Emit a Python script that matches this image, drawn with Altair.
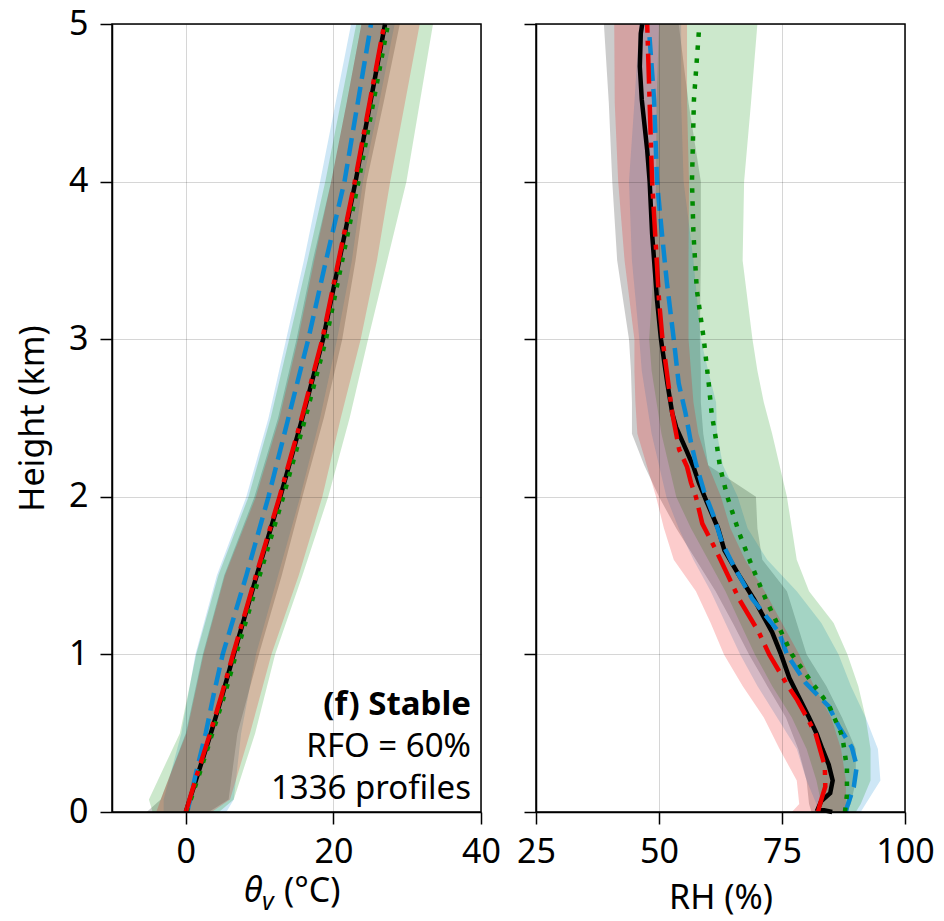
import altair as alt
import pandas as pd

FONT = "Noto Sans"
W, H = 369, 788

# ---------------- theta_v panel (degC) ----------------
TH_H = [0, 0.25, 0.5, 0.75, 1, 1.5, 2, 2.5, 3, 3.5, 4, 4.5, 5]
TH_BLACK = [0, 1.7, 3.4, 5.0, 6.5, 9.6, 12.8, 15.8, 18.6, 20.8, 23.0, 25.0, 27.0]
TH_BLUE = [0.2, 1.4, 2.7, 3.8, 5.0, 8.2, 11.2, 13.9, 16.6, 19.0, 21.5, 23.3, 25.1]
TH_GREEN = [0.1, 1.9, 3.6, 5.3, 6.8, 10.0, 13.2, 16.2, 19.0, 21.2, 23.4, 25.4, 27.4]
TH_RED = [0, 1.6, 3.3, 4.9, 6.4, 9.5, 12.7, 15.7, 18.5, 20.7, 22.9, 24.9, 26.9]

# spread envelopes of theta_v
TB_H = [0, 0.08, 0.5, 1, 1.5, 2, 2.5, 3, 3.5, 4, 4.5, 5]
TB_GREY_LO = [-5.3, -3.4, 0.0, 2.3, 5.2, 9.3, 12.5, 15.0, 17.2, 19.7, 21.8, 23.8]
TB_GREY_HI = [3.1, 5.8, 7.0, 9.9, 13.0, 15.8, 18.7, 21.2, 23.0, 24.5, 26.8, 29.0]
TB_BLUE_LO = [-3.0, -3.0, -0.6, 1.3, 4.2, 8.2, 11.2, 13.6, 16.0, 18.2, 20.3, 22.4]
TB_BLUE_HI = [5.5, 6.5, 7.5, 9.5, 12.5, 15.5, 18.2, 20.5, 22.5, 24.0, 26.2, 28.3]
TB_GREEN_LO = [-4.5, -5.0, -0.8, 1.4, 4.4, 8.5, 11.5, 14.0, 16.5, 18.9, 21.0, 23.1]
TB_GREEN_HI = [4.5, 6.5, 9.4, 12.1, 15.8, 19.3, 22.2, 24.7, 27.3, 29.9, 31.7, 33.5]
TB_RED_LO = [-4.0, -3.4, 0.1, 2.4, 5.3, 9.5, 12.7, 15.2, 17.4, 19.7, 21.8, 23.8]
TB_RED_HI = [3.5, 6.0, 8.7, 11.6, 15.3, 18.5, 21.0, 23.7, 25.9, 27.7, 29.7, 31.7]

# ---------------- relative humidity panel (%) ----------------
RH_BLACK_H = [0, 0.02, 0.07, 0.12, 0.2, 0.3, 0.4, 0.5, 0.6, 0.7, 0.85, 1.0, 1.14, 1.35,
              1.5, 1.66, 1.8, 1.96, 2.09, 2.19, 2.3, 2.44, 2.53, 2.72, 3.0, 3.25, 3.67,
              4.0, 4.2, 4.52, 4.73, 4.94, 5.0]
RH_BLACK = [85.2, 82.3, 83.0, 84.8, 85.3, 84.5, 83.2, 82.0, 80.5, 78.9, 76.5, 74.8, 73.0, 69.3,
            66.3, 63.3, 62.0, 59.8, 58.1, 57.0, 55.5, 53.5, 52.7, 51.7, 50.4, 49.6, 48.6,
            48.1, 47.6, 46.5, 46.1, 46.3, 46.6]
RH_RED_H = [0, 0.08, 0.16, 0.29, 0.5, 0.71, 0.82, 1.0, 1.14, 1.35, 1.66, 1.83, 2.0, 2.09,
            2.19, 2.3, 2.53, 3.0, 3.25, 4.0, 5.0]
RH_RED = [82.3, 83.0, 83.8, 83.7, 81.8, 78.1, 75.8, 72.4, 70.3, 66.3, 61.6, 58.8, 57.5, 56.5,
          55.7, 54.1, 52.7, 50.7, 50.0, 48.6, 47.6]
RH_BLUE_H = [0, 0.03, 0.16, 0.29, 0.41, 0.54, 0.67, 0.82, 1.0, 1.14, 1.35, 1.56, 1.71, 1.87,
             2.04, 2.21, 2.36, 2.53, 2.72, 3.0, 3.36, 3.67, 4.0, 4.52, 4.95]
RH_BLUE = [88.0, 88.2, 89.6, 90.2, 89.2, 86.6, 84.5, 79.8, 76.0, 74.4, 69.0, 65.2, 62.8, 61.2,
           59.1, 57.5, 56.4, 55.4, 54.0, 53.0, 51.6, 50.6, 49.6, 49.0, 48.0]
RH_GREEN_H = [0, 0.11, 0.28, 0.45, 0.5, 0.68, 0.82, 1.0, 1.35, 1.56, 1.77, 2.0, 2.19, 2.36,
              2.53, 2.72, 3.0, 3.31, 3.67, 4.0, 4.52, 4.95]
RH_GREEN = [87.8, 88.2, 88.2, 87.4, 87.0, 84.5, 81.1, 77.0, 71.7, 68.9, 66.3, 63.9, 62.4, 61.6,
            60.7, 60.1, 59.1, 57.7, 57.0, 56.7, 57.1, 58.1]

# spread envelopes of RH
RB_H = [0, 0.05, 0.2, 0.4, 0.6, 0.8, 1.0, 1.2, 1.4, 1.6, 1.8, 2.0, 2.2, 2.4, 2.6, 2.8, 3.0,
        3.5, 4.0, 4.5, 5.0]
RB_GREY_LO = [81, 80.5, 80, 78.3, 75.8, 72, 68.3, 65, 61.5, 57.5, 53.5, 50, 47, 44.5, 44.5,
              44.3, 43.9, 41.5, 40.5, 39.8, 38.8]
RB_GREY_HI = [88, 89, 90, 90, 87.2, 84, 80, 78, 76, 71, 70, 69.7, 60, 59, 58.5, 58.5, 58.3,
              58.5, 58.5, 56, 54]
RB_BLUE_LO = [82, 82, 80, 78, 74, 70, 66.5, 63.5, 60.5, 57, 54, 51.5, 50, 48.5, 47.5, 46.5,
              46, 44.5, 43.9, 45, 46]
RB_BLUE_HI = [91, 92, 95, 94.5, 92, 89, 86.5, 83, 78, 72, 68, 66, 63, 61.8, 61.6, 60, 58.5,
              57, 55, 54.5, 54.5]
RB_GREEN_LO = [83, 83, 82, 80, 77, 73, 69.5, 66.5, 63.5, 60, 56.5, 53.5, 52, 50.5, 49.5, 48.5,
               48, 49, 49.4, 49.5, 50]
RB_GREEN_HI = [90, 91, 93, 93, 92, 90.5, 88.3, 85.5, 80.5, 78, 77, 76, 74.5, 73, 71.3, 70, 69,
               67, 67.3, 68.7, 70]
RB_RED_LO = [77, 78.5, 78, 74.5, 71.3, 67, 63.2, 60.5, 57.5, 53, 51, 49.4, 47.5, 45.6, 45.2,
             45, 45, 43, 41.7, 41, 40.9]
RB_RED_HI = [88, 88, 88, 87, 85, 81.5, 78.5, 75, 71.5, 67.5, 64.5, 62.6, 60, 58, 57, 56.5, 56,
             56, 56.1, 55.7, 55.7]

ANNOT_TITLE = "(f) Stable"
ANNOT_LINES = "RFO = 60%\n1336 profiles"

C_GREY = "#808080"
C_BLUE = "#0a88d2"
C_GREEN = "#008a00"
C_RED = "#ee0000"

Y_SCALE = alt.Scale(domain=[0, 5], nice=False, zero=False)
TH_SCALE = alt.Scale(domain=[-10, 40], nice=False, zero=False)
RH_SCALE = alt.Scale(domain=[25, 100], nice=False, zero=False)

AX_COMMON = dict(
    tickSize=12, tickWidth=1.5, tickColor="black",
    domainColor="black", domainWidth=1.5,
    labelFontSize=34, labelFont=FONT, labelColor="black",
    titleFontSize=34, titleFont=FONT, titleColor="black", titleFontWeight="normal",
    grid=True, gridColor="black", gridOpacity=0.16, gridWidth=1,
    labelOverlap=False, labelFlush=False, zindex=1,
)

Y_LEFT_AX = alt.Axis(values=[0, 1, 2, 3, 4, 5], title="Height (km)", labelPadding=12,
                     titlePadding=18, **AX_COMMON)
Y_RIGHT_AX = alt.Axis(values=[0, 1, 2, 3, 4, 5], title=None, labels=False, **AX_COMMON)
TH_AX = alt.Axis(values=[0, 20, 40], title=None, labelPadding=11, **AX_COMMON)
RH_AX = alt.Axis(values=[25, 50, 75, 100], title="RH (%)", labelPadding=11,
                 titlePadding=12, **AX_COMMON)


def band(h, lo, hi, color, opacity, xscale, xaxis, yaxis):
    df = pd.DataFrame({"h": h, "lo": lo, "hi": hi})
    return alt.Chart(df).mark_area(orient="horizontal", color=color, fillOpacity=opacity,
                                   strokeWidth=0).encode(
        y=alt.Y("h:Q", scale=Y_SCALE, axis=yaxis),
        x=alt.X("lo:Q", scale=xscale, axis=xaxis),
        x2=alt.X2("hi:Q"),
    )


def profile(h, v, color, dash, xscale, xaxis, yaxis, width=4.5):
    df = pd.DataFrame({"h": h, "v": v})
    kw = dict(color=color, strokeWidth=width, strokeCap="butt")
    if dash:
        kw["strokeDash"] = dash
    return alt.Chart(df).mark_line(**kw).encode(
        y=alt.Y("h:Q", scale=Y_SCALE, axis=yaxis),
        x=alt.X("v:Q", scale=xscale, axis=xaxis),
        order=alt.Order("h:Q"),
    )


def frame():
    return alt.Chart(pd.DataFrame({"f": [0]})).mark_rect(
        filled=False, stroke="black", strokeWidth=1.5
    ).encode(x=alt.value(0), x2=alt.value(W), y=alt.value(0), y2=alt.value(H))


def label(text, x, y, size, **kw):
    return alt.Chart(pd.DataFrame({"t": [text]})).mark_text(
        font=FONT, fontSize=size, color="black", **kw
    ).encode(text="t:N", x=alt.value(x), y=alt.value(y))


DASH_BLUE = [18, 8]
DASH_GREEN = [4.5, 8.5]
DASH_RED = [30, 8, 5, 8]

left = alt.layer(
    band(TB_H, TB_GREY_LO, TB_GREY_HI, C_GREY, 0.4, TH_SCALE, TH_AX, Y_LEFT_AX),
    band(TB_H, TB_BLUE_LO, TB_BLUE_HI, C_BLUE, 0.2, TH_SCALE, TH_AX, Y_LEFT_AX),
    band(TB_H, TB_GREEN_LO, TB_GREEN_HI, C_GREEN, 0.2, TH_SCALE, TH_AX, Y_LEFT_AX),
    band(TB_H, TB_RED_LO, TB_RED_HI, C_RED, 0.2, TH_SCALE, TH_AX, Y_LEFT_AX),
    profile(TH_H, TH_BLACK, "black", None, TH_SCALE, TH_AX, Y_LEFT_AX),
    profile(TH_H, TH_BLUE, C_BLUE, DASH_BLUE, TH_SCALE, TH_AX, Y_LEFT_AX),
    profile(TH_H, TH_GREEN, C_GREEN, DASH_GREEN, TH_SCALE, TH_AX, Y_LEFT_AX),
    profile(TH_H, TH_RED, C_RED, DASH_RED, TH_SCALE, TH_AX, Y_LEFT_AX),
    label(ANNOT_TITLE, 359, 691, 33, align="right", baseline="alphabetic", fontWeight="bold"),
    label(ANNOT_LINES, 359, 733, 33, align="right", baseline="alphabetic",
          lineBreak="\n", lineHeight=41.5),
    # x-axis title: italic theta with subscript v
    label("θ", 132, 878, 34, align="left", baseline="alphabetic", fontStyle="italic"),
    label("v", 150, 886, 25, align="left", baseline="alphabetic", fontStyle="italic"),
    label("(°C)", 172, 878, 34, align="left", baseline="alphabetic"),
    frame(),
).properties(width=W, height=H)

right = alt.layer(
    band(RB_H, RB_GREY_LO, RB_GREY_HI, C_GREY, 0.4, RH_SCALE, RH_AX, Y_RIGHT_AX),
    band(RB_H, RB_BLUE_LO, RB_BLUE_HI, C_BLUE, 0.2, RH_SCALE, RH_AX, Y_RIGHT_AX),
    band(RB_H, RB_GREEN_LO, RB_GREEN_HI, C_GREEN, 0.2, RH_SCALE, RH_AX, Y_RIGHT_AX),
    band(RB_H, RB_RED_LO, RB_RED_HI, C_RED, 0.2, RH_SCALE, RH_AX, Y_RIGHT_AX),
    profile(RH_BLACK_H, RH_BLACK, "black", None, RH_SCALE, RH_AX, Y_RIGHT_AX),
    profile(RH_BLUE_H, RH_BLUE, C_BLUE, DASH_BLUE, RH_SCALE, RH_AX, Y_RIGHT_AX),
    profile(RH_GREEN_H, RH_GREEN, C_GREEN, DASH_GREEN, RH_SCALE, RH_AX, Y_RIGHT_AX),
    profile(RH_RED_H, RH_RED, C_RED, DASH_RED, RH_SCALE, RH_AX, Y_RIGHT_AX),
    frame(),
).properties(width=W, height=H)

chart = alt.hconcat(left, right, spacing=55, bounds="flush").properties(
    padding={"left": 16, "top": 7, "right": 5, "bottom": 5},
    background="white",
).configure_view(stroke=None)

chart.save("out.html", embed_options={"renderer": "svg", "actions": False})
